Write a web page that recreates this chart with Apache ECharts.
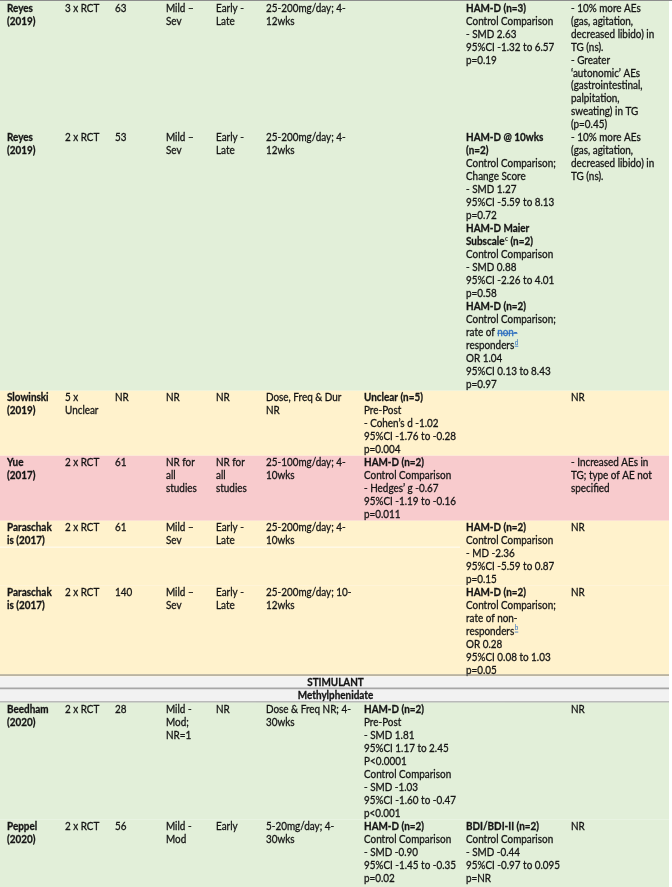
<!DOCTYPE html>
<html><head><meta charset="utf-8">
<script src="https://cdn.jsdelivr.net/npm/echarts@6/dist/echarts.min.js"></script>
<style>html,body{margin:0;padding:0;background:#fff}#c{width:672px;height:887px}</style>
</head><body><div id="c"></div>
<script>
// ================= DATA =================
const studies = [['Reyes','(2019)'],['Reyes','(2019)'],['Slowinski','(2019)'],['Yue','(2017)'],['Paraschak','is (2017)'],['Paraschak','is (2017)'],['Beedham','(2020)'],['Peppel','(2020)']];
const designs = [['3 x RCT'],['2 x RCT'],['5 x','Unclear'],['2 x RCT'],['2 x RCT'],['2 x RCT'],['2 x RCT'],['2 x RCT']];
const sampleSizes = [['63'],['53'],['NR'],['61'],['61'],['140'],['28'],['56']];
const severity = [['Mild –','Sev'],['Mild –','Sev'],['NR'],['NR for','all','studies'],['Mild –','Sev'],['Mild –','Sev'],['Mild -','Mod;','NR=1'],['Mild -','Mod']];
const stage = [['Early -','Late'],['Early -','Late'],['NR'],['NR for','all','studies'],['Early -','Late'],['Early -','Late'],['NR'],['Early']];
const dosing = [['25-200mg/day; 4-','12wks'],['25-200mg/day; 4-','12wks'],['Dose, Freq & Dur','NR'],['25-100mg/day; 4-','10wks'],['25-200mg/day; 4-','10wks'],['25-200mg/day; 10-','12wks'],['Dose & Freq NR; 4-','30wks'],['5-20mg/day; 4-','30wks']];
const outcomesA = [
  [],
  [],
  ['*Unclear (n=5)','Pre-Post','- Cohen’s d -1.02','95%CI -1.76 to -0.28','p=0.004'],
  ['*HAM-D (n=2)','Control Comparison','- Hedges’ g -0.67','95%CI -1.19 to -0.16','p=0.011'],
  [],
  [],
  ['*HAM-D (n=2)','Pre-Post','- SMD 1.81','95%CI 1.17 to 2.45','P<0.0001','Control Comparison','- SMD -1.03','95%CI -1.60 to -0.47','p<0.001'],
  ['*HAM-D (n=2)','Control Comparison','- SMD -0.90','95%CI -1.45 to -0.35','p=0.02']
];
const outcomesB = [
  ['*HAM-D (n=3)','Control Comparison','- SMD 2.63','95%CI -1.32 to 6.57','p=0.19'],
  ['*HAM-D @ 10wks','*(n=2)','Control Comparison;','Change Score','- SMD 1.27','95%CI -5.59 to 8.13','p=0.72','*HAM-D Maier','*Subscale[sup:c] (n=2)','Control Comparison','- SMD 0.88','95%CI -2.26 to 4.01','p=0.58','*HAM-D (n=2)','Control Comparison;','rate of [strike:non-]','responders[link:d]','OR 1.04','95%CI 0.13 to 8.43','p=0.97'],
  [],
  [],
  ['*HAM-D (n=2)','Control Comparison','- MD -2.36','95%CI -5.59 to 0.87','p=0.15'],
  ['*HAM-D (n=2)','Control Comparison;','rate of non-','responders[link:b]','OR 0.28','95%CI 0.08 to 1.03','p=0.05'],
  [],
  ['*BDI/BDI-II (n=2)','Control Comparison','- SMD -0.44','95%CI -0.97 to 0.095','p=NR']
];
const adverseEvents = [
  ['- 10% more AEs','(gas, agitation,','decreased libido) in','TG (ns).','- Greater','‘autonomic’ AEs','(gastrointestinal,','palpitation,','sweating) in TG','(p=0.45)'],
  ['- 10% more AEs','(gas, agitation,','decreased libido) in','TG (ns).'],
  ['NR'],
  ['- Increased AEs in','TG; type of AE not','specified'],
  ['NR'],
  ['NR'],
  ['NR'],
  ['NR']
];
const ratings = ['green','green','amber','red','amber','amber','green','green'];
const sectionHeaders = [{before: 6, drugClass: 'STIMULANT', drug: 'Methylphenidate'}];

// ================= STYLE / LAYOUT =================
const columns = [studies, designs, sampleSizes, severity, stage, dosing, outcomesA, outcomesB, adverseEvents];
const boldColumns = [true,false,false,false,false,false,false,false,false];
const colTextX = [7,65,115,166,216,266,364,466,571];
const tableRight = 669;
const LINE_H = 13;
const FONT = 'Lato';
const FONT_SIZE = 11;
const SCALE_X = 0.9;
const TEXT_COLOR = '#141414';
const TEXT_STROKE = 0.3;
const LINK_COLOR = '#2f6fc0';
const ratingColors = {green:'#e2efd9', amber:'#fff2cc', red:'#f8cbcd'};
const HEADER_BG = '#f2f2f2';
const splitLines = [{row:4, afterLine:2, lastCol:6}];

const mctx = document.createElement('canvas').getContext('2d');
function tw(s, bold, size){ mctx.font = (bold?'bold ':'') + size + 'px ' + FONT; return mctx.measureText(s).width * SCALE_X; }

function parseLine(line, forceBold){
  let bold = !!forceBold;
  if (line.startsWith('*')) { bold = true; line = line.slice(1); }
  const segs = []; const re = /\[(\w+):([^\]]*)\]/g; let last = 0, m;
  while ((m = re.exec(line))) {
    if (m.index > last) segs.push({t: line.slice(last, m.index), kind: 'n'});
    segs.push({t: m[2], kind: m[1]}); last = re.lastIndex;
  }
  if (last < line.length) segs.push({t: line.slice(last), kind: 'n'});
  return {bold, segs};
}

// build layout rows (units = text lines)
const layoutRows = [];
let cursor = 0;
studies.forEach((s, i) => {
  sectionHeaders.filter(h => h.before === i).forEach(h => {
    layoutRows.push({type:'header', text:h.drugClass, level:0, start:cursor, end:cursor+1}); cursor += 1;
    layoutRows.push({type:'header', text:h.drug, level:1, start:cursor, end:cursor+1}); cursor += 1;
  });
  const n = Math.max(...columns.map(c => c[i].length));
  layoutRows.push({type:'study', idx:i, start:cursor, end:cursor+n}); cursor += n;
});
const yMax = cursor + 0.2;
layoutRows[layoutRows.length-1].end = yMax;

function textEl(x, y, text, opts){
  const col = opts.color || TEXT_COLOR;
  return {type:'text', x:x, y:y, scaleX:SCALE_X, silent:true,
    style:{text:text, x:0, y:0, fill:col, stroke:col, lineWidth:(opts.size && opts.size < 9) ? 0 : TEXT_STROKE,
      fontFamily:FONT, fontSize:opts.size||FONT_SIZE,
      fontWeight:opts.bold?'bold':'normal', align:opts.align||'left', verticalAlign:'middle'}};
}

function renderItem(params, api){
  const row = layoutRows[api.value(3)];
  const p0 = api.coord([0, row.start]);
  const p1 = api.coord([tableRight, row.end]);
  const children = [];
  if (row.type === 'header') {
    children.push({type:'rect', shape:{x:p0[0], y:p0[1], width:p1[0]-p0[0], height:p1[1]-p0[1]}, style:{fill:HEADER_BG}});
    if (row.level === 0) {
      children.push({type:'line', shape:{x1:p0[0], y1:p0[1]-1.5, x2:p1[0], y2:p0[1]-1.5}, style:{stroke:'#7f7f7f', lineWidth:1}});
      children.push({type:'line', shape:{x1:p0[0], y1:p1[1]-1, x2:p1[0], y2:p1[1]-1}, style:{stroke:'#a6a6a6', lineWidth:2}});
    } else {
      children.push({type:'line', shape:{x1:p0[0], y1:p1[1]-0.5, x2:p1[0], y2:p1[1]-0.5}, style:{stroke:'#7f7f7f', lineWidth:1}});
    }
    children.push(textEl((p0[0]+p1[0])/2 + 1, p0[1] + 5.5, row.text, {bold:true, align:'center'}));
    return {type:'group', children};
  }
  const i = row.idx;
  children.push({type:'rect', shape:{x:p0[0], y:p0[1], width:p1[0]-p0[0], height:p1[1]-p0[1]}, style:{fill:ratingColors[ratings[i]]}});
  if (row.start === 0) {
    children.push({type:'line', shape:{x1:p0[0], y1:p0[1]-0.5, x2:672, y2:p0[1]-0.5}, style:{stroke:'#8c8c8c', lineWidth:1}});
  }
  splitLines.filter(s => s.row === i).forEach(s => {
    const ys = api.coord([0, row.start + s.afterLine])[1] + 0.5;
    const xe = api.coord([colTextX[s.lastCol+1]-6, 0])[0];
    children.push({type:'line', shape:{x1:p0[0], y1:ys, x2:xe, y2:ys}, style:{stroke:'#ffffff', lineWidth:1, opacity:0.8}});
  });
  columns.forEach((col, c) => {
    const x0 = api.coord([colTextX[c], row.start])[0];
    col[i].forEach((line, li) => {
      const yMid = api.coord([0, row.start + li])[1] + 7;
      const pl = parseLine(line, boldColumns[c]);
      let x = x0;
      pl.segs.forEach(sg => {
        if (sg.kind === 'n') {
          children.push(textEl(x, yMid, sg.t, {bold:pl.bold}));
          x += tw(sg.t, pl.bold, FONT_SIZE);
        } else if (sg.kind === 'sup') {
          children.push(textEl(x + 0.5, yMid - 3.5, sg.t, {bold:pl.bold, size:7}));
          x += tw(sg.t, pl.bold, 7) + 0.5;
        } else if (sg.kind === 'link') {
          const w = tw(sg.t, false, 7);
          children.push(textEl(x + 0.5, yMid - 3.5, sg.t, {size:7, color:LINK_COLOR}));
          children.push({type:'line', shape:{x1:x+0.5, y1:yMid+0.5, x2:x+0.5+w, y2:yMid+0.5}, style:{stroke:LINK_COLOR, lineWidth:0.8}});
          x += w + 0.5;
        } else if (sg.kind === 'strike') {
          const w = tw(sg.t, pl.bold, FONT_SIZE);
          children.push(textEl(x, yMid, sg.t, {bold:pl.bold, color:LINK_COLOR}));
          children.push({type:'line', shape:{x1:x, y1:yMid+0.5, x2:x+w, y2:yMid+0.5}, style:{stroke:LINK_COLOR, lineWidth:1}});
          x += w;
        }
      });
    });
  });
  return {type:'group', children};
}

const chart = echarts.init(document.getElementById('c'), null, {renderer:'canvas'});
chart.setOption({
  animation: false,
  grid: {left:0, right:0, top:1, height: yMax * LINE_H},
  xAxis: {type:'value', min:0, max:672, show:false},
  yAxis: {type:'value', inverse:true, min:0, max:yMax, show:false},
  series: [{
    type:'custom', renderItem, clip:false,
    encode:{x:0, y:[1,2]},
    data: layoutRows.map((r, k) => [0, r.start, r.end, k])
  }]
});
</script>
</body></html>
